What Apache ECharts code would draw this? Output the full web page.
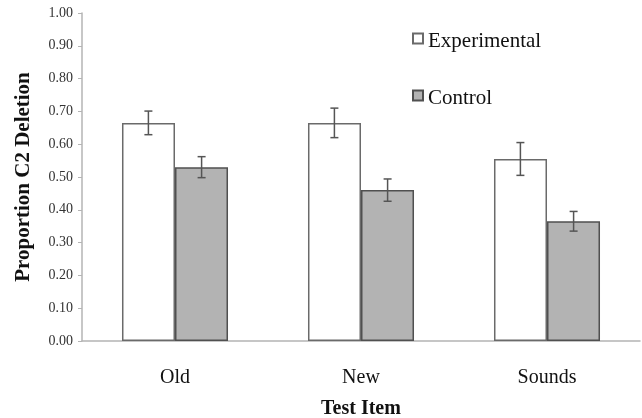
<!DOCTYPE html>
<html>
<head>
<meta charset="utf-8">
<script src="https://cdn.jsdelivr.net/npm/echarts@6/dist/echarts.min.js"></script>
<style>
	html, body {margin: 0; padding: 0; background: #fff;}
	#chart {width: 642px; height: 418px;}
</style>
</head>
<body>
<div id="chart"></div>
<script>
let categories = ['Old', 'New', 'Sounds'];
let experimental = [0.665, 0.665, 0.555];
let control = [0.53, 0.46, 0.365];
let experimentalErr = [0.036, 0.045, 0.05];
let controlErr = [0.032, 0.034, 0.03];

let serif = '"Liberation Serif", "DejaVu Serif", serif';
let axisColor = '#b4b4b4';

let errorSeries = ((values, errs, side) => ({
	type: 'custom',
	silent: true,
	z: 5,
	data: values.map((v, i) => [i, v - errs[i], v + errs[i]]),
	renderItem: (params, api) => {
		let i = api.value(0);
		let band = api.size([1, 0])[0];
		let x = api.coord([i, 0])[0] + side * band * 0.143;
		let lo = api.coord([i, api.value(1)])[1];
		let hi = api.coord([i, api.value(2)])[1];
		let style = {stroke: '#555', lineWidth: 1.5};
		return {
			type: 'group',
			children: [
				{type: 'line', shape: {x1: x, y1: lo, x2: x, y2: hi}, style},
				{type: 'line', shape: {x1: x - 4, y1: lo, x2: x + 4, y2: lo}, style},
				{type: 'line', shape: {x1: x - 4, y1: hi, x2: x + 4, y2: hi}, style},
			],
		};
	},
}));

let chart = echarts.init(document.getElementById('chart'));
chart.setOption({
	animation: false,
	grid: {left: 82, right: 2, top: 13, bottom: 77, outerBoundsMode: 'none'},
	legend: {
		orient: 'vertical',
		left: 407,
		top: 26,
		itemGap: 36,
		itemWidth: 10,
		itemHeight: 16,
		// square sits in the upper part of the icon box, like the original
		icon: 'path://M0,0 H10 V10 H0 Z M0,16',
		data: ['Experimental', 'Control'],
		textStyle: {fontFamily: serif, fontSize: 21, color: '#111'},
	},
	xAxis: {
		type: 'category',
		data: categories,
		name: 'Test Item',
		nameLocation: 'middle',
		nameGap: 58,
		nameTextStyle: {fontFamily: serif, fontSize: 20, fontWeight: 'bold', color: '#111'},
		axisLine: {lineStyle: {color: axisColor, width: 1.5}},
		axisTick: {length: 5, lineStyle: {color: axisColor}},
		axisLabel: {fontFamily: serif, fontSize: 20, color: '#111', margin: 27},
	},
	yAxis: {
		type: 'value',
		min: 0,
		max: 1,
		interval: 0.1,
		name: 'Proportion C2 Deletion',
		nameLocation: 'middle',
		nameGap: 48,
		nameTextStyle: {fontFamily: serif, fontSize: 21, fontWeight: 'bold', color: '#111'},
		splitLine: {show: false},
		axisLine: {show: true, lineStyle: {color: axisColor, width: 1.5}},
		axisTick: {show: true, length: 4, lineStyle: {color: axisColor}},
		axisLabel: {
			fontFamily: serif,
			fontSize: 14,
			color: '#333',
			margin: 9,
			formatter: (v) => v.toFixed(2),
		},
	},
	series: [
		{
			name: 'Experimental',
			type: 'bar',
			data: experimental,
			barGap: '0%',
			barCategoryGap: '43%',
			itemStyle: {color: '#fff', borderColor: '#6a6a6a', borderWidth: 1.5},
		},
		{
			name: 'Control',
			type: 'bar',
			data: control,
			itemStyle: {color: '#b3b3b3', borderColor: '#505050', borderWidth: 1.5},
		},
		errorSeries(experimental, experimentalErr, -1),
		errorSeries(control, controlErr, 1),
	],
});
</script>
</body>
</html>
